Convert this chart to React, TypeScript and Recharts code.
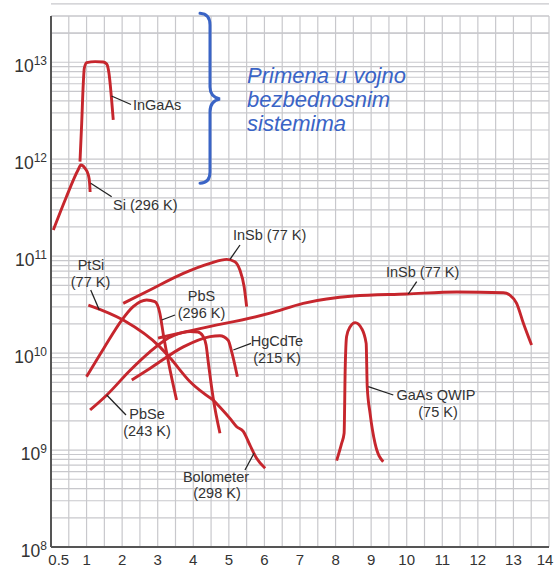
import React from 'react';
import { LineChart, Line, XAxis, YAxis, CartesianGrid } from 'recharts';

// Wavelength (µm) and detectivity D* (cm·Hz^1/2/W)
const siX = [0.065, 0.42, 0.76, 0.84, 0.96, 1.05, 1.085, 1.1];
const siY = [1.86e11, 3.98e11, 7.74e11, 8.71e11, 8.02e11, 6.87e11, 5.68e11, 4.59e11];

const ingaasX = [0.815, 0.863, 0.908, 0.936, 1.004, 1.24, 1.47, 1.566, 1.63, 1.68, 1.75];
const ingaasY = [9.43e11, 2.35e12, 6.07e12, 8.67e12, 9.9e12, 1.014e13, 1.006e13, 9.6e12, 7.69e12, 5.17e12, 2.54e12];

const insbUpX = [2.03, 2.78, 3.72, 4.47, 4.94, 5.17, 5.31, 5.43, 5.5];
const insbUpY = [3.26e10, 4.48e10, 6.65e10, 8.44e10, 9.27e10, 8.77e10, 7.19e10, 4.84e10, 3.01e10];

const insbLongX = [3.01, 4.19, 6.16, 7.09, 8.5, 10.0, 11.41, 12.72, 12.9, 13.09, 13.28, 13.51];
const insbLongY = [1.43e10, 1.79e10, 2.58e10, 3.26e10, 3.88e10, 4.07e10, 4.27e10, 4.2e10, 3.97e10, 3.26e10, 2.03e10, 1.21e10];

const pbsX = [1.0, 1.49, 1.99, 2.31, 2.69, 2.92, 3.06, 3.16, 3.3, 3.53];
const pbsY = [5.71e9, 1.13e10, 2.19e10, 3.01e10, 3.53e10, 3.39e10, 2.58e10, 1.54e10, 8.15e9, 3.28e9];

const ptsiX = [1.05, 2.03, 3.06, 3.35, 3.91, 4.56];
const ptsiY = [3.13e10, 2.19e10, 1.16e10, 8.9e9, 5.07e9, 3.28e9];

const boloX = [4.56, 5.03, 5.22, 5.41, 5.59, 5.78, 6.02];
const boloY = [3.28e9, 2.12e9, 1.74e9, 1.55e9, 1.13e9, 8.22e8, 6.48e8];

const pbseX = [1.1, 1.57, 2.22, 2.78, 3.2, 3.49, 3.91, 4.13, 4.27, 4.36, 4.42, 4.56, 4.75];
const pbseY = [2.59e9, 3.7e9, 6.62e9, 1.03e10, 1.36e10, 1.54e10, 1.67e10, 1.65e10, 1.5e10, 1.21e10, 8.15e9, 3.42e9, 1.49e9];

const hgcdteX = [2.27, 2.78, 3.72, 4.47, 4.75, 4.98, 5.08, 5.24];
const hgcdteY = [5.28e9, 6.94e9, 1.16e10, 1.48e10, 1.51e10, 1.36e10, 1.03e10, 5.71e9];

const gaasX = [8.03, 8.17, 8.24, 8.27, 8.31, 8.41, 8.55, 8.73, 8.86, 8.89, 8.97, 9.11, 9.34];
const gaasY = [7.77e8, 1.17e9, 1.49e9, 6.69e9, 1.48e10, 1.87e10, 2.06e10, 1.8e10, 1.26e10, 4.5e9, 2.39e9, 1.17e9, 7.58e8];

// Axis ticks
const xDomain = [0, 14];
const yDomain = [1e8, 3e13];
const xTicks = [0.5, 1, 1.5, 2, 2.5, 3, 3.5, 4, 4.5, 5, 5.5, 6, 6.5, 7, 7.5, 8, 8.5, 9, 9.5, 10, 10.5, 11, 11.5, 12, 12.5, 13, 13.5, 14];
const xTickLabels = ['0.5', '1', '2', '3', '4', '5', '6', '7', '8', '9', '10', '11', '12', '13', '14'];
const yDecades = [8, 9, 10, 11, 12, 13];
const yMantissas = [1, 2, 3, 4, 5, 6, 7, 8, 9];

const yTicks: number[] = [];
yDecades.forEach((e) => yMantissas.forEach((m) => yTicks.push(m * Math.pow(10, e))));
yTicks.push(2e13, 3e13);

const RED = '#c6262d';
const BLUE = '#3a64c6';
const FONT = '"Liberation Sans", Arial, Helvetica, sans-serif';

const build = (xs: number[], ys: number[]) => xs.map((x, i) => ({ x, y: ys[i] }));

const series = [
  { name: 'Si', data: build(siX, siY) },
  { name: 'InGaAs', data: build(ingaasX, ingaasY) },
  { name: 'InSb77a', data: build(insbUpX, insbUpY) },
  { name: 'InSb77b', data: build(insbLongX, insbLongY) },
  { name: 'PbS', data: build(pbsX, pbsY) },
  { name: 'PtSi', data: build(ptsiX, ptsiY) },
  { name: 'Bolometer', data: build(boloX, boloY) },
  { name: 'PbSe', data: build(pbseX, pbseY) },
  { name: 'HgCdTe', data: build(hgcdteX, hgcdteY) },
  { name: 'GaAs', data: build(gaasX, gaasY) },
];

const XTick = (props: any) => {
  const { x, payload } = props;
  const v = payload.value;
  const label = v === 0.5 ? '0.5' : Number.isInteger(v) ? String(v) : null;
  if (!label || !xTickLabels.includes(label)) return null;
  const dx = v === 0.5 ? -10 : v === 14 ? -4 : 0;
  return (
    <text x={x + dx} y={565} textAnchor="middle" fontFamily={FONT} fontSize={15} fill="#333">
      {label}
    </text>
  );
};

const YTick = (props: any) => {
  const { y, payload } = props;
  const v = payload.value;
  const e = Math.log10(v);
  const r = Math.round(e);
  if (Math.abs(e - r) > 1e-9 || !yDecades.includes(r)) return null;
  return (
    <text x={47} y={y + 9.5} textAnchor="end" fontFamily={FONT} fill="#333">
      <tspan fontSize={17.5}>10</tspan>
      <tspan fontSize={12} dy={-7}>{r}</tspan>
    </text>
  );
};

// grid line positions: same mapping as the axes (linear x, log y) over the plot box
const hGen = (p: any) => {
  const o = p.offset;
  const lo = Math.log10(yDomain[0]);
  const hi = Math.log10(yDomain[1]);
  return yTicks.map((t) => o.top + ((hi - Math.log10(t)) / (hi - lo)) * o.height);
};
const vGen = (p: any) => {
  const o = p.offset;
  return xTicks.map((t) => o.left + ((t - xDomain[0]) / (xDomain[1] - xDomain[0])) * o.width);
};

const labelStyle = { fontFamily: FONT, fontSize: 14.5, fill: '#333' } as const;

const Overlay = () => (
  <svg
    width={554}
    height={567}
    style={{ position: 'absolute', left: 0, top: 0, pointerEvents: 'none' }}
  >
    <g stroke="#222" strokeWidth={1.3} fill="none">
      <line x1={111.5} y1={96} x2={131} y2={104.5} />
      <line x1={90.7} y1={183.3} x2={111.7} y2={196.7} />
      <line x1={230} y1={259.3} x2={240} y2={245} />
      <line x1={90.7} y1={290} x2={99.3} y2={310} />
      <line x1={161.7} y1={320} x2={175} y2={315} />
      <line x1={233.3} y1={350} x2={251} y2={343.3} />
      <line x1={408.3} y1={294} x2={416.7} y2={281.7} />
      <line x1={368.3} y1={386.7} x2={393.3} y2={395} />
      <line x1={106.7} y1={395} x2={126} y2={415} />
      <line x1={254} y1={453.3} x2={245} y2={470} />
    </g>
    <text x={133} y={110} {...labelStyle}>InGaAs</text>
    <text x={113} y={210} {...labelStyle}>Si (296 K)</text>
    <text x={233} y={240} {...labelStyle}>InSb (77 K)</text>
    <text x={91} y={270} textAnchor="middle" {...labelStyle}>PtSi</text>
    <text x={90.5} y={286.5} textAnchor="middle" {...labelStyle}>(77 K)</text>
    <text x={201.5} y={301} textAnchor="middle" {...labelStyle}>PbS</text>
    <text x={201.5} y={317.5} textAnchor="middle" {...labelStyle}>(296 K)</text>
    <text x={277} y={346} textAnchor="middle" {...labelStyle}>HgCdTe</text>
    <text x={277} y={362.5} textAnchor="middle" {...labelStyle}>(215 K)</text>
    <text x={386} y={276.7} {...labelStyle}>InSb (77 K)</text>
    <text x={436} y={400} textAnchor="middle" {...labelStyle}>GaAs QWIP</text>
    <text x={438} y={416.5} textAnchor="middle" {...labelStyle}>(75 K)</text>
    <text x={147} y={419} textAnchor="middle" {...labelStyle}>PbSe</text>
    <text x={147} y={435.5} textAnchor="middle" {...labelStyle}>(243 K)</text>
    <text x={216} y={481.5} textAnchor="middle" {...labelStyle}>Bolometer</text>
    <text x={217} y={498} textAnchor="middle" {...labelStyle}>(298 K)</text>

    <path
      d="M200,13.3 Q210,14 210,25 L210,87 Q210,97 220,99 Q210,101 210,111.7 L210,172 Q210,183 200,183.3"
      stroke={BLUE}
      strokeWidth={3}
      fill="none"
      strokeLinecap="round"
    />
    <g fontFamily={FONT} fontStyle="italic" fontSize={22} fill={BLUE}>
      <text x={247} y={83.3}>Primena u vojno</text>
      <text x={247} y={106.7}>bezbednosnim</text>
      <text x={247} y={130.7}>sistemima</text>
    </g>
  </svg>
);

export default function App() {
  return (
    <div style={{ position: 'absolute', left: 0, top: 0, width: 554, height: 567, background: '#fff' }}>
      <LineChart width={554} height={567} margin={{ top: 16, right: 5, bottom: 0, left: 0 }}>
        <CartesianGrid
          stroke="#c8c8cc"
          strokeWidth={1.2}
          horizontalCoordinatesGenerator={hGen}
          verticalCoordinatesGenerator={vGen}
        />
        <XAxis
          type="number"
          dataKey="x"
          domain={xDomain}
          ticks={xTicks}
          interval={0}
          tick={<XTick />}
          tickLine={false}
          axisLine={{ stroke: '#555', strokeWidth: 2 }}
          height={20}
          allowDataOverflow
        />
        <YAxis
          type="number"
          dataKey="y"
          scale="log"
          domain={yDomain}
          ticks={yTicks}
          interval={0}
          tick={<YTick />}
          tickLine={false}
          axisLine={{ stroke: '#555', strokeWidth: 2 }}
          width={51}
          allowDataOverflow
        />
        {series.map((s) => (
          <Line
            key={s.name}
            data={s.data}
            dataKey="y"
            type="monotone"
            stroke={RED}
            strokeWidth={2.9}
            dot={false}
            activeDot={false}
            isAnimationActive={false}
          />
        ))}
      </LineChart>
      <Overlay />
    </div>
  );
}
